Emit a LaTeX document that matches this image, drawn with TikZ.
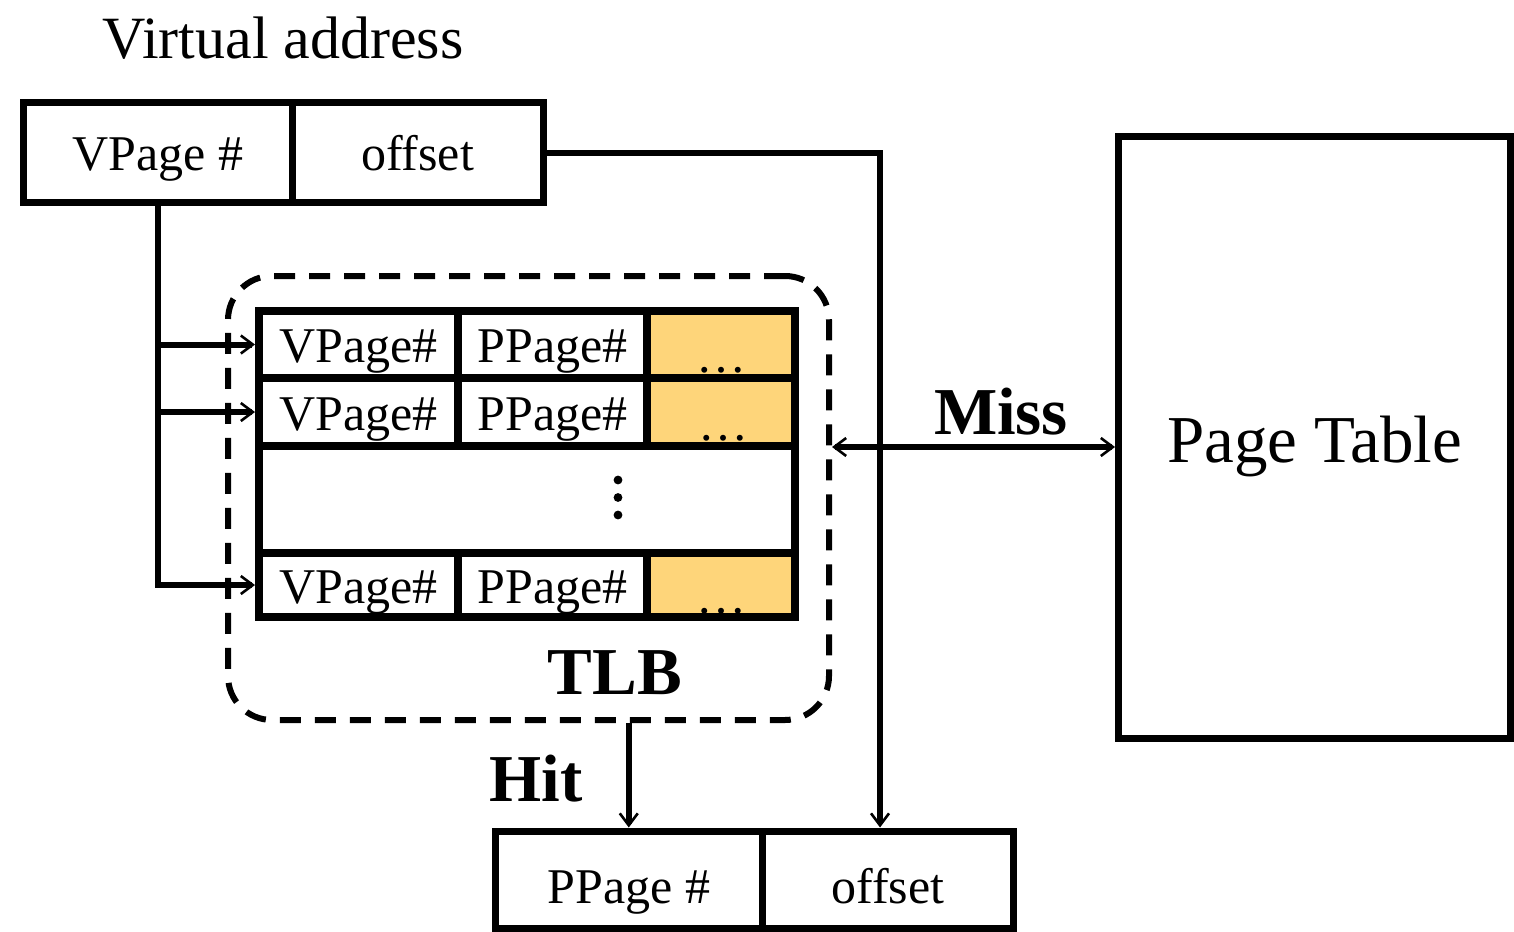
\documentclass[tikz,border=0pt]{standalone}
\usepackage{fontspec}
\setmainfont{Liberation Serif}
\usetikzlibrary{arrows.meta}
\definecolor{cellgold}{RGB}{254,213,122}

\begin{document}
\begin{tikzpicture}[x=0.5pt,y=-0.5pt,
  every node/.style={inner sep=0pt},
  txt/.style={font=\fontsize{25}{30}\selectfont},
  big/.style={font=\fontsize{30}{36}\selectfont},
  hdr/.style={font=\bfseries\fontsize{33.5}{40}\selectfont},
  field/.style={draw, line width=3.5pt, txt, text height=18pt, text depth=0pt, minimum height=49.5pt},
  cell/.style={draw, line width=4pt, txt, text height=18pt, text depth=0pt},
  barb/.tip={Straight Barb[length=6pt,width=9pt,line width=1.3pt]},
  link/.style={line width=3pt, -barb},
]
\useasboundingbox (0,0) rectangle (1514,931);

% virtual address
\node[big, anchor=base] (va) at (283,59) {Virtual address};
\node[field, minimum width=134.25pt] (vp)  at (157.75,152.5) {VPage \#};
\node[field, minimum width=125.5pt]  (off) at (417.5,152.5)  {offset};

% TLB frame
\node[draw, line width=3pt, dash pattern=on 10.5pt off 7pt, rounded corners=22pt,
      minimum width=300.5pt, minimum height=222pt] (tlb) at (528.5,498) {};

% TLB entries
\node[cell, minimum width=99.5pt, minimum height=33.5pt] (r1v) at (358.5,344.5) {VPage\#};
\node[cell, minimum width=94.5pt, minimum height=33.5pt] (r1p) at (552.5,344.5) {PPage\#};
\node[cell, fill=cellgold, minimum width=74pt, minimum height=33.5pt] (r1x) at (721,344.5) {};
\node[cell, minimum width=99.5pt, minimum height=34pt] (r2v) at (358.5,412) {VPage\#};
\node[cell, minimum width=94.5pt, minimum height=34pt] (r2p) at (552.5,412) {PPage\#};
\node[cell, fill=cellgold, minimum width=74pt, minimum height=34pt] (r2x) at (721,412) {};
\node[cell, minimum width=268pt, minimum height=53.5pt] (mid) at (527,499.5) {};
\node[cell, minimum width=99.5pt, minimum height=32pt] (r3v) at (358.5,585) {VPage\#};
\node[cell, minimum width=94.5pt, minimum height=32pt] (r3p) at (552.5,585) {PPage\#};
\node[cell, fill=cellgold, minimum width=74pt, minimum height=32pt] (r3x) at (721,585) {};

\node[txt, anchor=base] (d1) at (721,372) {…};
\node[txt, anchor=base] (d2) at (723,440) {…};
\node[txt, anchor=base] (d3) at (721,613) {…};
\fill (618,480) circle (2.2pt) (618,497.5) circle (2.2pt) (618,515) circle (2.2pt);

\node[hdr, anchor=base] (tlbl) at (615,694) {TLB};

% page table
\node[draw, line width=3.5pt, minimum width=196pt, minimum height=301pt,
      font=\fontsize{33.5}{40}\selectfont, text height=25pt, text depth=0pt] (pt) at (1314.5,437) {Page Table};

% physical address
\node[field, minimum width=133.25pt, minimum height=48.5pt, text height=24pt] (bpp)  at (628.75,879.5) {PPage \#};
\node[field, minimum width=125.75pt, minimum height=48.5pt, text height=24pt] (boff) at (887.75,879.5) {offset};

% connectors
\draw[link] (vp.south) |- (r1v.west);
\draw[link] (vp.south) |- (r2v.west);
\draw[link] (vp.south) |- (r3v.west);

\coordinate (offx) at (880,0);
\draw[link] (off.east) -| (offx |- boff.north);

\coordinate (missy) at (0,447);
\draw[line width=3pt, barb-barb] (tlb.east |- missy) -- (pt.west |- missy);
\node[hdr, anchor=base] (miss) at (1001,434) {Miss};

\draw[link] (bpp.north |- tlb.south) -- (bpp.north);
\node[hdr, anchor=base] (hit) at (536,801) {Hit};
\end{tikzpicture}
\end{document}
